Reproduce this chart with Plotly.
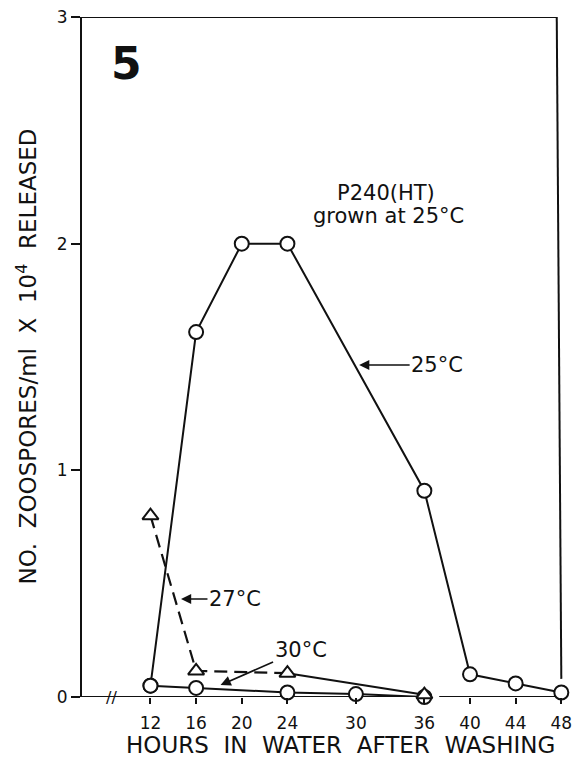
import plotly.graph_objects as go

# ---- data ----
hours_25 = [12, 16, 20, 24, 36, 40, 44, 48]
vals_25 = [0.05, 1.61, 2.0, 2.0, 0.91, 0.10, 0.06, 0.02]

hours_27 = [12, 16, 24, 36]
vals_27 = [0.80, 0.115, 0.105, 0.01]

hours_30 = [12, 16, 24, 30, 36]
vals_30 = [0.05, 0.04, 0.02, 0.013, 0.0]

x_ticks = [12, 16, 20, 24, 30, 36, 40, 44, 48]
y_ticks = [0, 1, 2, 3]

FONT = "DejaVu Sans"
BLACK = "#111111"

# plot area in pixels
L, R, T, B = 82, 572, 17, 697
W, H = R - L, B - T


def px(x):
    return (x - L) / W


def py(y):
    return (B - y) / H


fig = go.Figure()

mk_circle = dict(symbol="circle", size=14, color="white", line=dict(color=BLACK, width=2))
mk_tri = dict(symbol="triangle-up", size=14, color="white", line=dict(color=BLACK, width=2))

# 30 C
fig.add_trace(go.Scatter(x=hours_30, y=vals_30, mode="lines+markers",
                         line=dict(color=BLACK, width=2), marker=mk_circle,
                         cliponaxis=False, showlegend=False))
# 27 C (dashed to 24 h, then solid)
fig.add_trace(go.Scatter(x=hours_27[2:], y=vals_27[2:], mode="lines",
                         line=dict(color=BLACK, width=2),
                         cliponaxis=False, showlegend=False))
fig.add_trace(go.Scatter(x=hours_27[:3], y=vals_27[:3], mode="lines",
                         line=dict(color=BLACK, width=2.2, dash="13px,7px"),
                         cliponaxis=False, showlegend=False))
fig.add_trace(go.Scatter(x=hours_27, y=vals_27, mode="markers",
                         marker=mk_tri, cliponaxis=False, showlegend=False))
# 25 C
fig.add_trace(go.Scatter(x=hours_25, y=vals_25, mode="lines+markers",
                         line=dict(color=BLACK, width=2), marker=mk_circle,
                         cliponaxis=False, showlegend=False))

# frame: x axis with a gap, top and right borders
fig.add_shape(type="line", x0=6, x1=36.6, y0=0, y1=0, line=dict(color=BLACK, width=2), layer="below")
fig.add_shape(type="line", x0=37.3, x1=48.2, y0=0, y1=0, line=dict(color=BLACK, width=2), layer="below")
fig.add_shape(type="line", x0=6, x1=47.6, y0=3, y1=3, line=dict(color=BLACK, width=2), layer="below")
fig.add_shape(type="line", x0=47.6, x1=48.0, y0=3, y1=0.08, line=dict(color=BLACK, width=2), layer="below")


def txt(x, y, s, size, **kw):
    d = dict(x=px(x), y=py(y), xref="paper", yref="paper", text=s, showarrow=False,
             xanchor="center", yanchor="middle",
             font=dict(family=FONT, size=size, color=BLACK))
    d.update(kw)
    return d


def arrow(tipx, tipy, tx, ty, s, size=21):
    return dict(x=px(tipx), y=py(tipy), xref="paper", yref="paper", text=s, showarrow=True,
                ax=tx - tipx, ay=ty - tipy, xanchor="center", yanchor="middle",
                arrowhead=2, arrowsize=1.2, arrowwidth=1.7, arrowcolor=BLACK,
                font=dict(family=FONT, size=size, color=BLACK))


ann = [
    txt(112, 697, "//", 16),
    txt(127, 64, "<b>5</b>", 44),
    txt(389, 193, "P240(HT)", 21),
    txt(392, 216, "grown at 25°C", 21),
    arrow(362, 365, 440, 365, "25°C"),
    arrow(182, 599, 236, 599, "27°C"),
    arrow(222, 685, 302, 650, "30°C"),
    txt(343, 745, "HOURS  IN  WATER  AFTER  WASHING", 23),
    txt(26, 357, "NO.  ZOOSPORES/ml  X  10<sup>4</sup>  RELEASED", 23, textangle=-90),
]

fig.update_layout(
    width=576, height=759,
    margin=dict(l=L, r=576 - R, t=T, b=759 - B),
    paper_bgcolor="white", plot_bgcolor="white",
    annotations=ann,
    xaxis=dict(range=[6, 6 + W / 11.53], tickvals=x_ticks, ticktext=[str(v) for v in x_ticks],
               showgrid=False, zeroline=False, showline=False,
               ticks="outside", ticklen=6, tickwidth=2, tickcolor=BLACK,
               ticklabelstandoff=5, ticklabeloverflow="allow",
               tickfont=dict(family=FONT, size=17, color=BLACK)),
    yaxis=dict(range=[0, 3], tickvals=y_ticks, ticktext=[str(v) for v in y_ticks],
               showgrid=False, zeroline=False, showline=True, linewidth=2, linecolor=BLACK,
               ticks="outside", ticklen=9, tickwidth=2, tickcolor=BLACK,
               tickfont=dict(family=FONT, size=17, color=BLACK)),
)

fig.write_html("out.html", config={"displayModeBar": False},
               post_script="document.body.style.margin='0px';")
